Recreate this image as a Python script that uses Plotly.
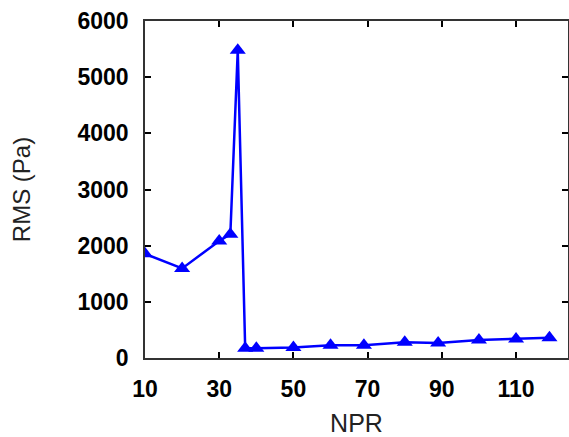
import plotly.graph_objects as go

npr = [10, 20, 30, 33, 35, 37, 40, 50, 60, 69, 80, 89, 100, 110, 119]
rms = [1855, 1595, 2083, 2202, 5480, 175, 172, 185, 225, 228, 280, 265, 322, 338, 362]

x_ticks = [10, 30, 50, 70, 90, 110]
y_ticks = [0, 1000, 2000, 3000, 4000, 5000, 6000]

fig = go.Figure()
fig.add_trace(go.Scatter(
    x=npr, y=rms, mode="lines+markers",
    line=dict(color="#0000FF", width=2.5),
    marker=dict(symbol="triangle-up", size=14, color="#0000FF"),
    showlegend=False,
))

tickfont = dict(family="Liberation Sans", size=23, color="black", weight="bold")

fig.update_layout(
    width=569, height=437,
    margin=dict(l=145, r=1, t=21, b=79),
    plot_bgcolor="white", paper_bgcolor="white",
    xaxis=dict(
        range=[10, 124], tickvals=x_ticks, ticktext=[str(v) for v in x_ticks],
        ticks="inside", ticklen=6, tickwidth=1.5, tickcolor="black",
        showline=True, linecolor="#333333", linewidth=1.5, mirror="ticks",
        showgrid=False, zeroline=False, tickfont=tickfont,
        ticklabelstandoff=10,
        title=dict(text="NPR", font=dict(family="Liberation Sans", size=25, color="#222222"), standoff=23),
        automargin=False,
    ),
    yaxis=dict(
        range=[0, 6000], tickvals=y_ticks, ticktext=[str(v) for v in y_ticks],
        ticks="inside", ticklen=6, tickwidth=1.5, tickcolor="black",
        showline=True, linecolor="#333333", linewidth=1.5, mirror="ticks",
        showgrid=False, zeroline=False, tickfont=tickfont,
        ticklabelstandoff=10,
        title=dict(text="RMS (Pa)", font=dict(family="Liberation Sans", size=24, color="#222222"), standoff=40),
        automargin=False,
    ),
)

fig.write_html("out.html")
